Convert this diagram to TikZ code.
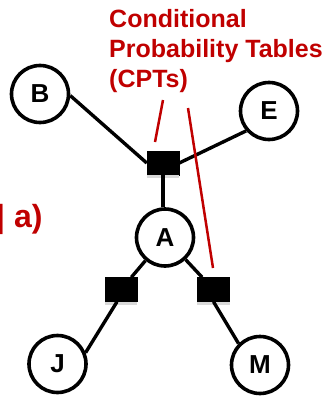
\documentclass[tikz,border=0pt]{standalone}
\usepackage{fontspec}
\setmainfont{Liberation Sans}
\definecolor{cptred}{RGB}{192,0,0}
\begin{document}
\begin{tikzpicture}[x=1pt,y=-1pt,
  var/.style={circle,draw=black,line width=3.6pt,minimum size=57pt,inner sep=0pt,
    font=\fontsize{26}{26}\selectfont\bfseries},
  factor/.style={rectangle,fill=black,draw=black,line width=0.5pt,
    minimum width=32pt,minimum height=24pt,inner sep=0pt},
  edge/.style={draw=black,line width=3.4pt},
  pointer/.style={draw=cptred,line width=2.5pt},
  shade/.style={fill=black!15,draw=none}]
\useasboundingbox (0,0) rectangle (328,399);

% variables
\node[var] (B) at (40,94) {B};
\node[var] (E) at (269,111) {E};
\node[var] (A) at (165,237.5) {A};
\node[var] (J) at (57.5,364) {J};
\node[var] (M) at (260,365) {M};

% factor squares with a light shadow strip underneath
\node[factor] (f1) at (163,163) {};
\node[factor] (f2) at (121,289.5) {};
\node[factor] (f3) at (213.5,289.5) {};
\foreach \f in {f1,f2,f3}
  \path[shade] (\f.south west) rectangle ([yshift=-3pt]\f.south east);

% edges
\draw[edge] (B.-3) -- (f1.west);
\draw[edge] (f1.east) -- (E.221);
\draw[edge] (f1.south) -- (f1.south |- A.north);
\draw[edge] (A) -- (f2);
\draw[edge] (A) -- (f3);
\draw[edge] ([xshift=-4pt]f2.south) -- (J.22);
\draw[edge] (f3.south) -- (M.135);

% label and its pointers
\node[anchor=base west,align=left,inner sep=0pt,text=cptred,
  font=\fontsize{25}{29.8}\selectfont\bfseries] (cpt) at (109,87.5)
  {Conditional\\Probability Tables\\(CPTs)};
\coordinate (p1a) at (163,100);
\coordinate (p1b) at (155,142);
\coordinate (p2a) at (188,108);
\coordinate (p2b) at (213,268);
\draw[pointer] (p1a) -- (p1b);
\draw[pointer] (p2a) -- (p2b);

% partial caption at the left edge
\node[anchor=base west,inner sep=0pt,text=cptred,
  font=\fontsize{32}{32}\selectfont\bfseries] (cap) at (-4,227) {| a)};
\end{tikzpicture}
\end{document}
